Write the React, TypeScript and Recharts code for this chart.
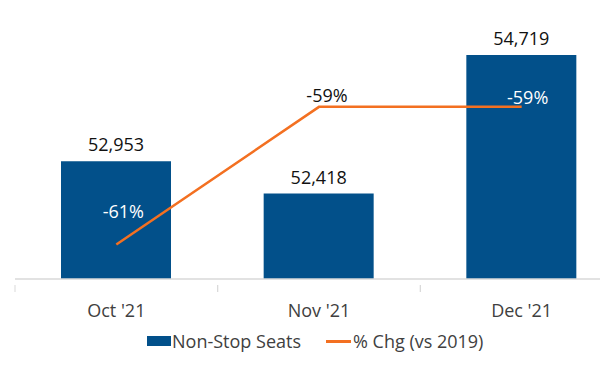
import React from 'react';
import { ComposedChart, Bar, Line, XAxis, YAxis, Legend, LabelList } from 'recharts';

const categories = ["Oct '21", "Nov '21", "Dec '21"];
const seats = [52953, 52418, 54719];
const pctChg = [-61, -59, -59];

const seatsDomain = [51000, 55000];
const pctDomain = [-61.5, -58];

const data = categories.map((c, i) => ({ month: c, seats: seats[i], pct: pctChg[i] }));

const BLUE = '#02508A';
const ORANGE = '#F37021';
const FONT = '"Open Sans", sans-serif';

// label styling per point (positions are styling, not data)
const pctLabelDx = [7, 8, 6];
const pctLabelDy = [-27, -5, -3];
const pctLabelColor = ['#ffffff', '#111111', '#ffffff'];

const HALF_BAND = 608 / 3 / 2;

const Tick = (props: any) => {
  const { x, y, payload } = props;
  return (
    <g>
      <line x1={x - HALF_BAND} x2={x - HALF_BAND} y1={y - 14} y2={y - 7} stroke="#d9d9d9" strokeWidth={1} />
      <line x1={x + HALF_BAND} x2={x + HALF_BAND} y1={y - 14} y2={y - 7} stroke="#d9d9d9" strokeWidth={1} />
      <text x={x} y={y} dy={18} textAnchor="middle" fill="#404040" fontSize={18} fontFamily={FONT}>
        {payload.value}
      </text>
    </g>
  );
};

const PctLabel = (props: any) => {
  const { x, y, value, index } = props;
  return (
    <text
      x={x + pctLabelDx[index]}
      y={y + pctLabelDy[index]}
      textAnchor="middle"
      fill={pctLabelColor[index]}
      fontSize={18}
      fontFamily={FONT}
    >
      {`${value}%`}
    </text>
  );
};

const LegendContent = () => (
  <div style={{ display: 'flex', alignItems: 'center', paddingLeft: 147, fontFamily: FONT, fontSize: 18, color: '#404040', height: 24 }}>
    <span style={{ display: 'inline-block', width: 24, height: 10, background: BLUE, marginRight: 1 }} />
    <span>Non-Stop Seats</span>
    <span style={{ display: 'inline-block', width: 25, height: 3, background: ORANGE, marginLeft: 25, marginRight: 2 }} />
    <span>% Chg (vs 2019)</span>
  </div>
);

export default function App() {
  return (
    <div style={{ position: 'absolute', left: 0, top: 0, width: 600, height: 384, overflow: 'hidden', background: '#fff' }}>
      <ComposedChart width={630} height={384} data={data} margin={{ top: 38, left: 15, right: 7, bottom: 41 }}>
        <XAxis
          dataKey="month"
          axisLine={{ stroke: '#d9d9d9', strokeWidth: 1.5 }}
          tickLine={false}
          tick={<Tick />}
          height={40}
          tickMargin={14}
          interval={0}
        />
        <YAxis yAxisId="left" hide domain={seatsDomain} allowDataOverflow />
        <YAxis yAxisId="right" orientation="right" hide domain={pctDomain} allowDataOverflow />
        <Legend
          verticalAlign="bottom"
          content={<LegendContent />}
          wrapperStyle={{ left: 0, top: 329, width: 600, height: 24 }}
        />
        <Bar yAxisId="left" dataKey="seats" name="Non-Stop Seats" fill={BLUE} barSize={110} isAnimationActive={false}>
          <LabelList
            dataKey="seats"
            position="top"
            offset={10}
            fill="#111111"
            fontSize={18}
            fontFamily={FONT}
            formatter={(v: any) => Number(v).toLocaleString('en-US')}
          />
        </Bar>
        <Line
          yAxisId="right"
          dataKey="pct"
          name="% Chg (vs 2019)"
          stroke={ORANGE}
          strokeWidth={2.5}
          dot={false}
          activeDot={false}
          isAnimationActive={false}
        >
          <LabelList dataKey="pct" content={<PctLabel />} />
        </Line>
      </ComposedChart>
    </div>
  );
}
